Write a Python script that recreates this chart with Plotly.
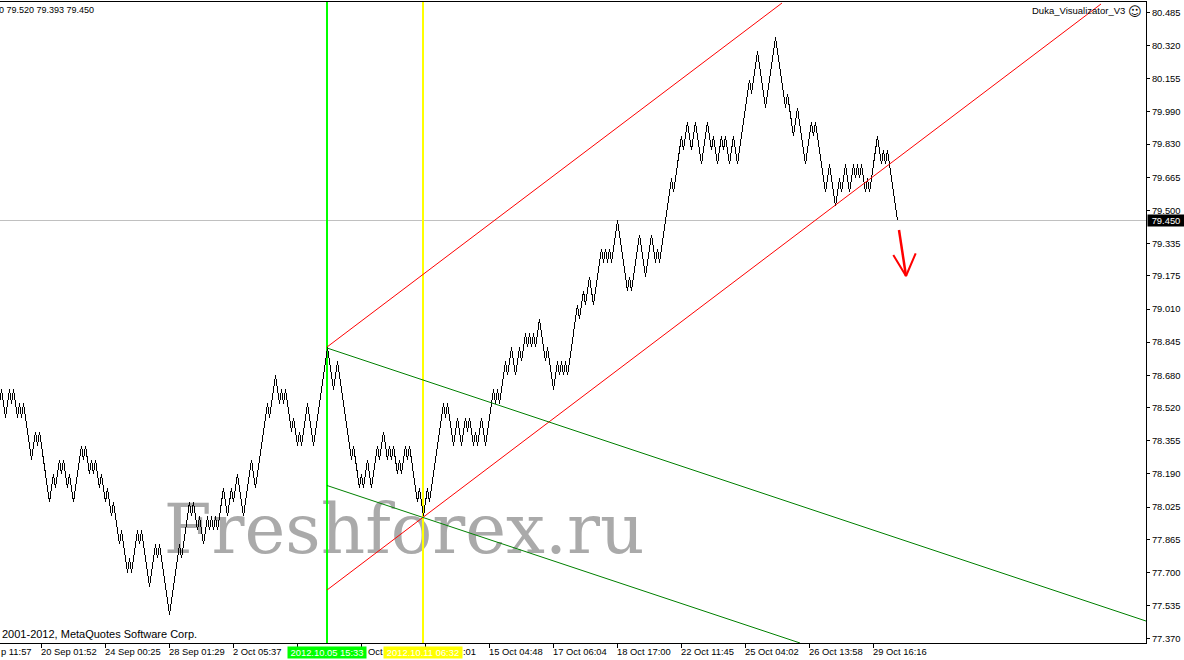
import plotly.graph_objects as go

# --- data ---
base_close = 79.45
brick_size = 0.07
# renko close of every bar, counted in bricks from the last close
brick_closes = [
 -13,-12,-13,-14,-13,-12,-13,-12,-13,-14,
 -13,-14,-13,-14,-15,-16,-17,-16,-15,-16,
 -15,-16,-17,-18,-19,-20,-19,-18,-19,-18,
 -17,-18,-17,-18,-19,-18,-19,-20,-19,-18,
 -17,-16,-17,-16,-17,-18,-17,-18,-17,-18,
 -19,-18,-19,-20,-19,-20,-21,-20,-21,-22,
 -23,-22,-23,-24,-25,-24,-25,-24,-23,-22,
 -23,-22,-23,-24,-25,-26,-25,-24,-23,-24,
 -23,-24,-25,-26,-27,-28,-27,-26,-25,-24,
 -23,-24,-23,-22,-21,-20,-21,-20,-21,-22,
 -21,-22,-23,-22,-21,-22,-21,-22,-21,-22,
 -21,-20,-19,-20,-21,-20,-19,-20,-19,-18,
 -19,-20,-21,-20,-19,-18,-17,-18,-19,-18,
 -17,-16,-15,-14,-13,-14,-13,-12,-11,-12,
 -13,-12,-13,-12,-13,-14,-15,-14,-15,-16,
 -15,-16,-15,-14,-13,-14,-15,-16,-15,-14,
 -13,-12,-11,-10,-9,-10,-11,-12,-11,-10,
 -11,-12,-13,-14,-15,-16,-17,-16,-17,-18,
 -19,-18,-19,-18,-17,-18,-19,-18,-17,-16,
 -17,-16,-15,-16,-17,-16,-17,-16,-17,-18,
 -17,-18,-17,-16,-17,-16,-17,-18,-19,-20,
 -19,-20,-21,-20,-19,-20,-19,-18,-17,-16,
 -15,-14,-13,-14,-13,-14,-15,-16,-15,-14,
 -15,-16,-15,-14,-15,-14,-15,-16,-15,-16,
 -15,-14,-15,-16,-15,-14,-13,-12,-13,-12,
 -13,-12,-11,-10,-11,-10,-9,-10,-11,-10,
 -9,-10,-9,-8,-9,-8,-9,-8,-9,-8,
 -7,-8,-9,-10,-9,-10,-11,-12,-11,-10,
 -11,-10,-11,-10,-11,-10,-9,-8,-7,-6,
 -7,-6,-5,-6,-5,-4,-5,-6,-5,-4,
 -3,-2,-3,-2,-3,-2,-3,-2,-1,0,
 -1,-2,-3,-4,-5,-4,-5,-4,-3,-2,
 -1,-2,-3,-4,-3,-2,-1,-2,-3,-2,
 -3,-2,-1,0,1,2,3,2,3,4,
 5,6,5,6,7,6,5,6,7,6,
 5,4,5,6,7,6,5,6,5,4,
 5,6,5,6,5,4,5,6,5,4,
 5,6,7,8,9,10,9,10,11,12,
 11,10,9,8,9,10,11,12,13,12,
 11,10,9,8,9,8,7,6,7,8,
 7,6,5,4,5,6,7,6,7,6,
 5,4,3,2,3,4,3,2,1,2,
 3,2,3,4,3,2,3,4,3,4,
 3,4,3,2,3,2,3,4,5,6,
 5,4,5,4,5,4,3,2,1,0,
]

price_ticks = [80.485,80.320,80.155,79.990,79.830,79.665,79.500,79.335,79.175,79.010,
               78.845,78.680,78.520,78.355,78.190,78.025,77.865,77.700,77.535,77.370]
price_labels = [f"{v:.3f}" for v in price_ticks]

time_tick_bars = [21,53,85,117,149,181,213,245,277,309,341,373,405,437]
time_label_bars = [21,53,85,117,245,277,309,341,373,405,437]
time_labels = ["20 Sep 01:52","24 Sep 00:25","28 Sep 01:29","2 Oct 05:37",
               "15 Oct 04:48","17 Oct 06:04","18 Oct 17:00",
               "22 Oct 11:45","25 Oct 04:02","26 Oct 13:58","29 Oct 16:16"]

red_upper_x = [163.75, 391.25];  red_upper_y = [78.821, 80.5313]
red_lower_x = [163.75, 550.75];  red_lower_y = [77.6129, 80.5264]
green_upper_x = [163.75, 573.25]; green_upper_y = [78.8161, 77.4588]
green_lower_x = [163.75, 400.25]; green_lower_y = [78.1325, 77.3495]
green_vline_bar = 163.75
yellow_vline_bar = 211.75
arrow_shaft_x = [449.75, 453.25]; arrow_shaft_y = [79.4028, 79.1741]
arrow_head_x = [446.9, 453.25, 458.1]; arrow_head_y = [79.2785, 79.1741, 79.2869]

y_min, y_max = 77.3495, 80.5363
x_min, x_max = 0.25, 573.25
UI = "Liberation Sans, sans-serif"
FS = 9.4

bar_index = list(range(len(brick_closes)))
close_prices = [base_close + k * brick_size for k in brick_closes]

fig = go.Figure()
fig.add_trace(go.Scatter(x=[202.25], y=[77.881], mode="text", text=["Freshforex.ru"],
                         textposition="middle center",
                         textfont=dict(family="DejaVu Serif", size=69, color="#aaaaaa")))
fig.add_trace(go.Scatter(x=[x_min, x_max], y=[base_close, base_close], mode="lines",
                         line=dict(color="#c0c0c0", width=1)))
fig.add_trace(go.Scatter(x=[green_vline_bar]*2, y=[y_min, y_max], mode="lines",
                         line=dict(color="#00ff00", width=2)))
fig.add_trace(go.Scatter(x=[yellow_vline_bar]*2, y=[y_min, y_max], mode="lines",
                         line=dict(color="#ffff00", width=2)))
fig.add_trace(go.Scatter(x=bar_index, y=close_prices, mode="lines",
                         line=dict(color="#000000", width=1)))
for xs, ys, c in [(red_upper_x, red_upper_y, "#ff0000"), (red_lower_x, red_lower_y, "#ff0000"),
                  (green_upper_x, green_upper_y, "#008000"), (green_lower_x, green_lower_y, "#008000")]:
    fig.add_trace(go.Scatter(x=xs, y=ys, mode="lines", line=dict(color=c, width=1)))
fig.add_trace(go.Scatter(x=arrow_shaft_x, y=arrow_shaft_y, mode="lines", line=dict(color="#ff0000", width=2.5)))
fig.add_trace(go.Scatter(x=arrow_head_x, y=arrow_head_y, mode="lines", line=dict(color="#ff0000", width=2)))

W, H, L_PLOT, T, B = 1184, 660, 1146, 2, 643
def py(px):
    return (B - px) / (B - T)
def px_(px):
    return px / L_PLOT

ann = []
def text(x, y, s, anchor="left", color="#000000", xref="paper", size=FS, **kw):
    ann.append(dict(x=x, y=py(y), xref=xref, yref="paper", text=s, showarrow=False,
                    xanchor=anchor, yanchor="middle", font=dict(family=UI, size=size, color=color), **kw))

text(px_(-1), 652, "p 11:57")
for b, s in zip(time_label_bars, time_labels):
    text(b, 652, s, xref="x", xshift=-3)
text(px_(366), 652, "Oct")
text(px_(461), 652, ":01")
text(px_(287), 652.5, "2012.10.05 15:33", color="#ffffff", bgcolor="#00ff00", width=78, height=11, borderpad=0)
text(px_(383), 652.5, "2012.10.11 06:32", color="#ffffff", bgcolor="#ffff00", width=78, height=11, borderpad=0)
text(px_(-3), 10, "0 79.520 79.393 79.450", size=9)
text(px_(0), 634, "2001-2012, MetaQuotes Software Corp.", size=11)
text(px_(1127), 10.5, "Duka_Visualizator_V3", anchor="right", size=9.5)
ann.append(dict(x=px_(1135), y=py(11), xref="paper", yref="paper", text="\u263a", showarrow=False,
                xanchor="center", yanchor="middle", font=dict(family="DejaVu Sans", size=13, color="#000000")))
text(px_(1147), 220.5, "79.450", color="#ffffff", bgcolor="#000000", width=36, height=11, borderpad=0)

fig.update_layout(
    width=W, height=H, showlegend=False, hovermode=False,
    margin=dict(l=0, r=W - L_PLOT, t=T, b=H - B, pad=0),
    plot_bgcolor="#ffffff", paper_bgcolor="#ffffff",
    annotations=ann,
    xaxis=dict(range=[x_min, x_max], showgrid=False, zeroline=False, showline=True, linecolor="#000000",
               linewidth=1, mirror=True, ticks="outside", ticklen=4, tickcolor="#000000", tickwidth=1,
               tickvals=time_tick_bars, showticklabels=False),
    yaxis=dict(range=[y_min, y_max], side="right", showgrid=False, zeroline=False, showline=True,
               linecolor="#000000", linewidth=1, ticks="outside", ticklen=3, tickcolor="#000000", tickwidth=1,
               tickvals=price_ticks, ticktext=price_labels, tickfont=dict(family=UI, size=FS, color="#000000")),
)
# crisp edges only on the price line and the straight rules; channel lines stay thin
post = ("document.body.style.margin='0';"
        "document.querySelectorAll('.scatterlayer path.js-line').forEach(function(p){"
        "var s=p.style.stroke||'';"
        "if(s.indexOf('255, 0, 0')<0&&s.indexOf('0, 128, 0')<0){p.style.shapeRendering='crispEdges';}"
        "});")
fig.write_html("out.html", config=dict(displayModeBar=False), post_script=post)
